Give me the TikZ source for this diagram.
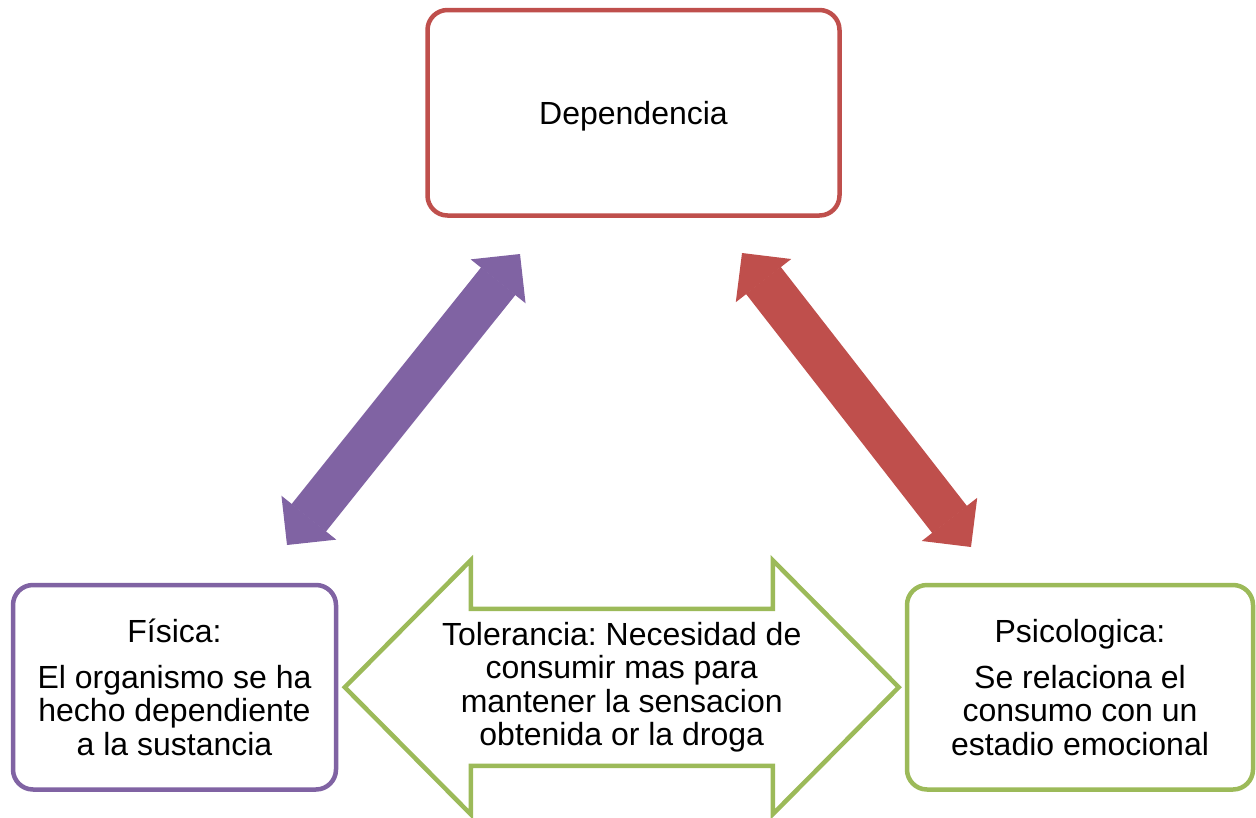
\documentclass[tikz,border=0pt]{standalone}
\usepackage{fontspec}
\setmainfont{Liberation Sans}
\usepackage{tikz}
\usetikzlibrary{arrows.meta,calc}
\definecolor{rojo}{rgb}{0.75,0.31,0.3}
\definecolor{morado}{rgb}{0.5,0.39,0.64}
\definecolor{verde}{rgb}{0.61,0.73,0.35}
\frenchspacing

\begin{document}
\begin{tikzpicture}[line join=miter,x=1pt,y=-1pt,
  caja/.style={draw,fill=white,line width=4.5pt,rounded corners=20pt,align=center,font=\fontsize{32}{33.4}\selectfont},
  flecha/.style={line width=44pt,{Triangle[length=35pt,width=70pt,line width=1.5pt]}-{Triangle[length=35pt,width=70pt,line width=1.5pt]}}]
      \useasboundingbox (0,0) rectangle (1256,817);
      % cajas
      \node[caja,draw=rojo,minimum width=412pt,minimum height=205.5pt,text depth=0pt] (dep) at (633.5,112.75) {Dependencia};
      \node[caja,draw=morado,minimum width=323pt,minimum height=204.5pt] (fis) at (174.5,687.25) {Física:\\[12.5pt]El organismo se ha\\hecho dependiente\\a la sustancia};
      \node[caja,draw=verde,minimum width=346pt,minimum height=204.5pt] (psi) at (1080,687.25) {Psicologica:\\[12.5pt]Se relaciona el\\consumo con un\\estadio emocional};
      % flechas diagonales
      \coordinate (mf) at (287,545);
      \coordinate (md) at (520,254);
      \coordinate (rd) at (742,253);
      \coordinate (rp) at (971,547);
      \draw[flecha,morado] (mf) -- (md);
      \draw[flecha,rojo] (rd) -- (rp);
      % flecha doble central
      \coordinate (ti) at ($(fis.east)+(6.5,0)$);
      \coordinate (td) at ($(psi.west)+(-6,0)$);
      \draw[verde,fill=white,line width=4.5pt] (ti) -- ++(126,-127) |- ($(td)+(-126,-78.5)$) -- ($(td)+(-126,-127)$) -- (td) -- ($(td)+(-126,127)$) |- ($(ti)+(126,78.5)$) -- ($(ti)+(126,127)$) -- cycle;
      \node[align=center,font=\fontsize{32}{33.4}\selectfont] (tol) at ($(ti)!0.5!(td)$) {Tolerancia: Necesidad de\\consumir mas para\\mantener la sensacion\\obtenida or la droga};
\end{tikzpicture}
\end{document}
